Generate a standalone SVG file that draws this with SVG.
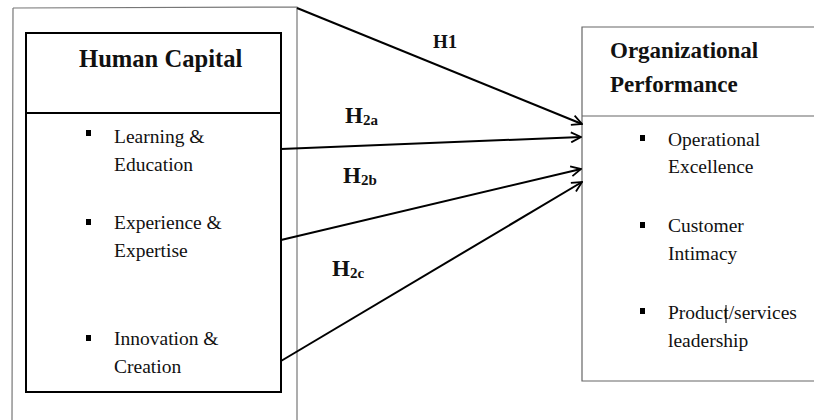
<svg xmlns="http://www.w3.org/2000/svg" width="814" height="420" viewBox="0 0 814 420">
<defs>
<marker id="arr" viewBox="0 0 12 12" refX="11" refY="6" markerWidth="12" markerHeight="12" markerUnits="userSpaceOnUse" orient="auto">
<path d="M1,1 L11,6 L1,11" fill="none" stroke="#000" stroke-width="1.8"/>
</marker>
<style>
text{font-family:'Liberation Serif','Times New Roman','DejaVu Serif',serif;fill:#111}
.b{font-weight:bold}
.item{font-size:19.5px}
.conn line{stroke:#000;stroke-width:2;marker-end:url(#arr)}
</style>
</defs>
<rect width="814" height="420" fill="#fff"/>
<g id="human-capital" font-family="Liberation Serif, serif">
<path d="M13,8 L297,7 L297,420 M13,8 L12,420" fill="none" stroke="#777" stroke-width="1.2"/>
<rect x="26" y="33" width="255" height="359" fill="#fff" stroke="#000" stroke-width="2"/>
<line x1="26" y1="113" x2="281" y2="113" stroke="#000" stroke-width="2"/>
<text class="b" x="79" y="67" font-size="24.6">Human Capital</text>
<rect x="86" y="130" width="5" height="6" fill="#000"/>
<text class="item" x="114" y="143">Learning &amp;</text>
<text class="item" x="114" y="171">Education</text>
<rect x="86" y="219" width="5" height="6" fill="#000"/>
<text class="item" x="114" y="229">Experience &amp;</text>
<text class="item" x="114" y="257">Expertise</text>
<rect x="86" y="335" width="5" height="6" fill="#000"/>
<text class="item" x="114" y="345">Innovation &amp;</text>
<text class="item" x="114" y="373">Creation</text>
</g>
<g id="organizational-performance" font-family="Liberation Serif, serif">
<path d="M816,27 L582,27 L582,381 L816,381 M582,116 L816,116" fill="none" stroke="#666" stroke-width="1.2"/>
<text class="b" x="610" y="58" font-size="23">Organizational</text>
<text class="b" x="610" y="92" font-size="23">Performance</text>
<rect x="640" y="135" width="5" height="6" fill="#000"/>
<text class="item" x="668" y="146">Operational</text>
<text class="item" x="668" y="173">Excellence</text>
<rect x="640" y="222" width="5" height="6" fill="#000"/>
<text class="item" x="668" y="232">Customer</text>
<text class="item" x="668" y="260">Intimacy</text>
<rect x="640" y="308" width="5" height="6" fill="#000"/>
<text class="item" x="668" y="319">Product/services</text>
<text class="item" x="668" y="347">leadership</text>
<line x1="726" y1="305" x2="726" y2="323" stroke="#000" stroke-width="1"/>
</g>
<g id="connectors" class="conn">
<line x1="297" y1="8" x2="582" y2="124"/>
<line x1="281" y1="149" x2="581" y2="137"/>
<line x1="281" y1="240" x2="581" y2="169"/>
<line x1="281" y1="361" x2="582" y2="182"/>
</g>
<g id="labels" font-family="Liberation Serif, serif">
<text class="b" x="433" y="48" font-size="19">H1</text>
<text class="b" x="345" y="123" font-size="23">H<tspan font-size="15" dy="2">2a</tspan></text>
<text class="b" x="343" y="183" font-size="23">H<tspan font-size="15" dy="2">2b</tspan></text>
<text class="b" x="332" y="276" font-size="23">H<tspan font-size="15" dy="2">2c</tspan></text>
</g>
</svg>
